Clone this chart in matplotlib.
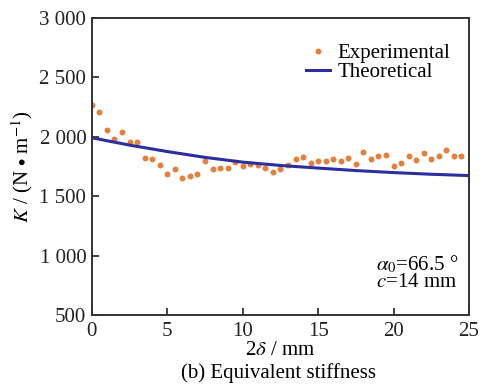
import numpy as np
import matplotlib.pyplot as plt

plt.rcParams['font.family'] = ['Liberation Serif', 'DejaVu Serif']
plt.rcParams['mathtext.fontset'] = 'stix'

# experimental points, 2delta in mm / K in N/m
exp_x = np.arange(0, 25, 0.5)
exp_k = [2265, 2206, 2057, 1982, 2040, 1954, 1954, 1824, 1816, 1760,
         1687, 1727, 1656, 1673, 1684, 1799, 1729, 1740, 1740, 1788,
         1752, 1769, 1765, 1737, 1706, 1729, 1765, 1813, 1833, 1777,
         1799, 1799, 1811, 1794, 1822, 1769, 1872, 1811, 1841, 1847,
         1757, 1777, 1838, 1805, 1864, 1813, 1836, 1892, 1836, 1836]

# theoretical curve
theo_x = [0, 2.5, 5, 7.5, 10, 12.5, 15, 17.5, 20, 22.5, 25]
theo_k = [1992, 1930, 1876, 1827, 1787, 1759, 1737, 1716, 1699, 1685, 1674]

yticks = [500, 1000, 1500, 2000, 2500, 3000]
ytick_labels = ['500', '1 000', '1 500', '2 000', '2 500', '3 000']
xticks = [0, 5, 10, 15, 20, 25]

fs = 15

fig = plt.figure(figsize=(4.81, 3.90), dpi=100)
ax = fig.add_axes([0.191, 0.192, 0.784, 0.762])

ax.plot(exp_x, exp_k, 'o', color='#E2803F', markersize=4.3, markeredgewidth=0,
        label='Experimental')
ax.plot(theo_x, theo_k, '-', color='#2A2E9E', linewidth=2.2, label='Theoretical')

ax.set_xlim(0, 25)
ax.set_ylim(500, 3000)
ax.set_xticks(xticks)
ax.set_yticks(yticks)
ax.set_yticklabels(ytick_labels)
ax.tick_params(direction='in', length=5, width=1.2, labelsize=fs, colors='#222222')
ax.tick_params(axis='x', pad=5)
ax.tick_params(axis='y', pad=4)
for s in ax.spines.values():
    s.set_linewidth(1.4)
    s.set_color('#333333')

ax.set_xlabel(r'2$\delta$ / mm', fontsize=fs, labelpad=0)
ax.set_ylabel(r'$K$ / (N $\bullet$ m$^{-1}$)', fontsize=fs, labelpad=3)

ax.legend(loc='upper right', frameon=False, fontsize=fs, handlelength=1.15,
          handletextpad=0.35, labelspacing=0.0, borderaxespad=0.6,
          bbox_to_anchor=(1.006, 0.985))

ax.text(0.753, 0.152, r'$\alpha_0$=66.5 °', transform=ax.transAxes,
        fontsize=fs, va='baseline')
ax.text(0.753, 0.094, r'$c$=14 mm', transform=ax.transAxes,
        fontsize=fs, va='baseline')

fig.text(0.58, 0.044, '(b) Equivalent stiffness', ha='center', va='center', fontsize=fs)

fig.savefig('out.png', dpi=100)
